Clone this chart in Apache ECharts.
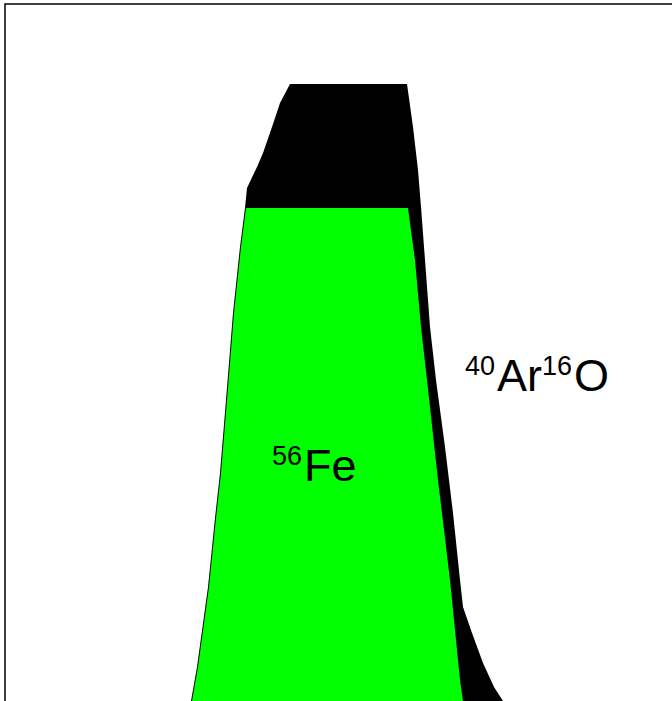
<!DOCTYPE html>
<html>
<head>
<meta charset="utf-8">
<style>
  html, body { margin: 0; padding: 0; background: #fff; }
  #chart { width: 672px; height: 701px; }
</style>
<script src="https://cdn.jsdelivr.net/npm/echarts@6/dist/echarts.min.js"></script>
</head>
<body>
<div id="chart"></div>
<script>
// Flat-topped peak profiles: m/z against intensity
const feMz = [55.784, 55.787, 55.793, 55.804, 55.811, 55.816, 55.822, 55.829, 55.836, 55.841,
              56.003, 56.010, 56.016, 56.022, 56.033, 56.045, 56.055, 56.058, 56.061];
const feInt = [0, 19, 53, 133, 202, 247, 320, 407, 473, 512,
               512, 460, 393, 340, 240, 140, 40, 19, 0];

const aroMz = [55.782, 55.786, 55.792, 55.803, 55.810, 55.815, 55.821, 55.828, 55.835, 55.840,
               55.842, 55.852, 55.858, 55.867, 55.875, 55.885,
               56.002, 56.008, 56.013, 56.016, 56.020, 56.025, 56.031, 56.040, 56.048,
               56.055, 56.058, 56.067, 56.078, 56.089, 56.098, 56.111];
const aroInt = [0, 19, 53, 133, 202, 247, 320, 407, 473, 512,
                532, 553, 567, 593, 617, 636,
                636, 593, 550, 513, 460, 393, 340, 273, 207,
                140, 113, 87, 57, 33, 19, 0];

// Peak labels: superscript mass number, element text, anchor (m/z, intensity)
const labels = [
  { sup: '56', main: 'Fe', at: [55.867, 278] },
  { sup: '40', main: 'Ar', sup2: '16', main2: 'O', at: [56.060, 368] }
];

const zip = (xs, ys) => xs.map((x, i) => [x, ys[i]]);

const chart = echarts.init(document.getElementById('chart'), null, { renderer: 'svg' });

const option = {
  animation: false,
  backgroundColor: '#ffffff',
  grid: {
    show: true,
    outerBoundsMode: 'none',
    containLabel: false,
    left: 5, top: 4, width: 700, height: 716,
    borderColor: '#000000', borderWidth: 1.5,
    backgroundColor: 'transparent'
  },
  xAxis: { type: 'value', min: 55.6, max: 56.3, show: false },
  yAxis: { type: 'value', min: 0, max: 716, show: false },
  series: [
    {
      name: 'ArO',
      type: 'line',
      data: zip(aroMz, aroInt),
      symbol: 'none',
      lineStyle: { width: 0 },
      areaStyle: { color: '#000000', opacity: 1 },
      z: 1
    },
    {
      name: 'Fe',
      type: 'line',
      data: zip(feMz, feInt),
      symbol: 'none',
      lineStyle: { width: 0 },
      areaStyle: { color: '#00ff00', opacity: 1 },
      z: 2
    }
  ]
};
chart.setOption(option);

const rich = {
  s: { fontSize: 27, fontFamily: 'Liberation Sans, Arial, sans-serif', verticalAlign: 'top', fill: '#000', padding: [0, 2, 0, 0] },
  m: { fontSize: 45, fontFamily: 'Liberation Sans, Arial, sans-serif', lineHeight: 46, fill: '#000' }
};

chart.setOption({
  graphic: labels.map(l => {
    const p = chart.convertToPixel({ gridIndex: 0 }, l.at);
    let text = '{s|' + l.sup + '}{m|' + l.main + '}';
    if (l.sup2) text += '{s|' + l.sup2 + '}{m|' + l.main2 + '}';
    return {
      type: 'text',
      x: p[0], y: p[1],
      z: 10,
      style: { text: text, rich: rich, align: 'left', verticalAlign: 'top' }
    };
  })
});
</script>
</body>
</html>
